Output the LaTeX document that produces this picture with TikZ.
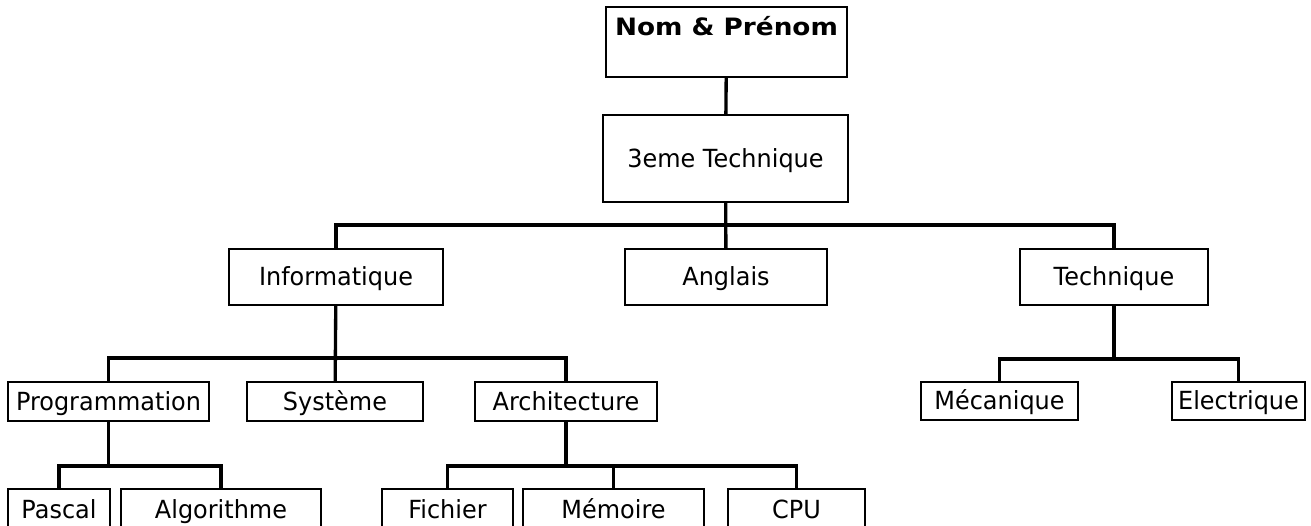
\documentclass[tikz,border=0pt]{standalone}
\usepackage{fontspec}
\setmainfont{DejaVu Sans}[FakeStretch=0.96]
\newfontfamily\titlefont{DejaVu Sans}[FakeStretch=1.1]
\usepackage{tikz}

\newlength\px
\setlength\px{0.02cm}

\tikzset{
  box/.style={draw, line width=1.4pt, inner sep=0pt, text height=18\px, text depth=0pt,
    font=\fontsize{14.2}{17}\selectfont},
  link/.style={line width=1.9pt}
}

\begin{document}
\begin{tikzpicture}[x=0.02cm,y=-0.02cm]
\useasboundingbox (0,0) rectangle (1311,526);

\node[box, minimum width=241\px, minimum height=70\px, text height=17\px, text depth=29\px,
  font=\fontsize{13.6}{16}\titlefont\bfseries] (nom) at (726.5,42) {Nom \& Prénom};
\node[box, minimum width=245\px, minimum height=87\px] (3eme) at (725.5,158.5) {3eme Technique};

\node[box, minimum width=214\px, minimum height=56\px] (info) at (336,277) {Informatique};
\node[box, minimum width=202\px, minimum height=56\px] (angl) at (726,277) {Anglais};
\node[box, minimum width=188\px, minimum height=56\px] (tech) at (1114,277) {Technique};

\node[box, minimum width=201\px, minimum height=39\px] (prog) at (108.5,401.5) {Programmation};
\node[box, minimum width=176\px, minimum height=39\px] (sys) at (335,401.5) {Système};
\node[box, minimum width=182\px, minimum height=39\px] (arch) at (566,401.5) {Architecture};
\node[box, minimum width=157\px, minimum height=38\px] (meca) at (999.5,401) {Mécanique};
\node[box, minimum width=133\px, minimum height=38\px] (elec) at (1238.5,401) {Electrique};

\node[box, minimum width=102\px, minimum height=40\px] (pascal) at (59,509) {Pascal};
\node[box, minimum width=200\px, minimum height=40\px] (algo) at (221,509) {Algorithme};
\node[box, minimum width=131\px, minimum height=40\px] (fich) at (447.5,509) {Fichier};
\node[box, minimum width=181\px, minimum height=40\px] (mem) at (613.5,509) {Mémoire};
\node[box, minimum width=137\px, minimum height=40\px] (cpu) at (796.5,509) {CPU};

\coordinate (b1) at (725.5,225);
\coordinate (b2) at (336,358);
\coordinate (b3) at (1114,359);
\coordinate (b4) at (108.5,466);
\coordinate (b5) at (566,466);

\draw[link] (nom) -- (3eme);
\draw[link] (3eme) -- (angl);
\draw[link] (info.north) |- (b1) -| (tech.north);

\draw[link] (info) -- (sys);
\draw[link] (prog.north) |- (b2) -| (arch.north);

\draw[link] (tech) -- (b3);
\draw[link] (meca.north) |- (b3) -| (elec.north);

\draw[link] (prog) -- (b4);
\draw[link] (pascal.north) |- (b4) -| (algo.north);

\draw[link] (arch) -- (b5);
\draw[link] (fich.north) |- (b5) -| (cpu.north);
\draw[link] (mem.north) -- (mem.north |- b5);
\end{tikzpicture}
\end{document}
